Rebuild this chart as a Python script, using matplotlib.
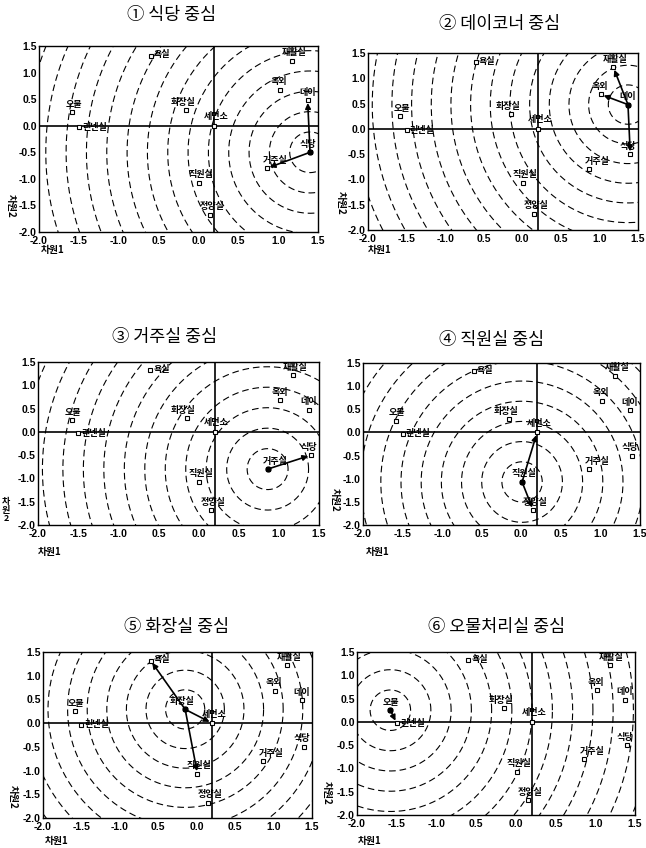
import numpy as np
import matplotlib
matplotlib.use('Agg')
import matplotlib.pyplot as plt

plt.rcParams['font.family'] = ['Noto Sans CJK KR', 'DejaVu Sans']

# 공간 좌표 (차원1, 차원2)
rooms = ['욕실', '오물', '린넨실', '화장실', '세면소', '재활실', '옥외', '데이', '식당', '거주실', '직원실', '정양실']
dim1 = [-0.60, -1.58, -1.50, -0.15, 0.20, 1.18, 1.02, 1.37, 1.40, 0.86, 0.01, 0.15]
dim2 = [1.32, 0.25, -0.03, 0.29, 0.00, 1.22, 0.68, 0.48, -0.50, -0.80, -1.07, -1.68]

titles = ['① 식당 중심', '② 데이코너 중심', '③ 거주실 중심',
          '④ 직원실 중심', '⑤ 화장실 중심', '⑥ 오물처리실 중심']
centers = ['식당', '데이', '거주실', '직원실', '화장실', '오물']
links = [['데이', '거주실'], ['재활실', '옥외', '식당'], ['식당'],
         ['세면소', '정양실'], ['욕실', '세면소', '직원실'], ['린넨실']]

ticks = [-2.0, -1.5, -1.0, -0.5, 0.0, 0.5, 1.0, 1.5]
xtick_labels = ['-2.0', '-1.5', '-1.0', '0.5', '0.0', '0.5', '1.0', '1.5']
ytick_labels = ['-2.0', '-1.5', '-1.0', '-0.5', '0.0', '0.5', '1.0', '1.5']

W, H = 646, 848
# 패널 위치 (픽셀: left, top, width, height)
rects = [(39, 46, 279, 186), (368, 53, 270, 177),
         (38, 362, 281, 163), (363, 363, 277, 162),
         (43, 652, 269, 166), (357, 652, 278, 163)]
title_pos = [(172, 15), (500, 24), (165, 337), (492, 340), (177, 627), (497, 627)]
xlab_pos = [(53, 250), (380, 250), (50, 552), (378, 552), (57, 841), (370, 841)]
ylab_pos = [(11, 206), (341, 203), (6, 510), (335, 500), (13, 797), (327, 793)]

label_off = {'욕실': (3, 1, 'left'), '린넨실': (3, 0, 'left'), '오물': (1, 8, 'center'),
             '화장실': (-3, 8, 'center'), '세면소': (2, 9, 'center'), '재활실': (2, 8, 'center'),
             '옥외': (-1, 8, 'center'), '데이': (0, 8, 'center'), '식당': (-2, 8, 'center'),
             '거주실': (8, 8, 'center'), '직원실': (2, 8, 'center'), '정양실': (2, 8, 'center')}

step = 0.255
axis_x = 0.2

fig = plt.figure(figsize=(W / 100, H / 100), dpi=100)

def fx(x):
    return x / W

def fy(y):
    return 1 - y / H

for i in range(6):
    l, t, w, h = rects[i]
    ax = fig.add_axes([fx(l), fy(t + h), w / W, h / H])
    ax.set_xlim(-2.0, 1.5)
    ax.set_ylim(-2.0, 1.5)

    # 동심원 (화면상 원)
    c = rooms.index(centers[i])
    cx, cy = dim1[c], dim2[c]
    ratio = w / h
    th = np.linspace(0, 2 * np.pi, 400)
    for k in range(1, 19):
        r = step * k
        ax.plot(cx + r * np.cos(th), cy + r * ratio * np.sin(th),
                color='black', lw=0.8, linestyle=(0, (6, 3.5)), zorder=1)

    ax.axhline(0, color='black', lw=1.2, zorder=2)
    ax.axvline(axis_x, color='black', lw=1.2, zorder=2)

    # 연결 화살표
    for name in links[i]:
        j = rooms.index(name)
        ax.annotate('', xy=(dim1[j], dim2[j]), xytext=(cx, cy),
                    arrowprops=dict(arrowstyle='-|>', color='black', lw=1.2,
                                    mutation_scale=8, shrinkA=0, shrinkB=2),
                    zorder=4)
    ax.plot(cx, cy, 'o', color='black', markersize=3.5, zorder=5)

    ax.plot(dim1, dim2, 's', mfc='white', mec='black', mew=0.8,
            markersize=3.2, linestyle='none', zorder=3)
    for j, name in enumerate(rooms):
        dx, dy, ha = label_off[name]
        ax.annotate(name, (dim1[j], dim2[j]), xytext=(dx * 0.72, dy * 0.72),
                    textcoords='offset points', ha=ha, va='center',
                    fontsize=6.5, fontweight='bold', zorder=6)

    ax.set_xticks(ticks)
    ax.set_xticklabels(xtick_labels)
    ax.set_yticks(ticks)
    ax.set_yticklabels(ytick_labels)
    ax.tick_params(axis='x', length=0, pad=3, labelsize=7.5)
    ax.tick_params(axis='y', length=0, pad=1.5, labelsize=7.5)
    for lab in ax.get_xticklabels() + ax.get_yticklabels():
        lab.set_family(['Liberation Sans', 'DejaVu Sans'])
        lab.set_fontweight('bold')
    for s in ax.spines.values():
        s.set_linewidth(1.0)

    fig.text(fx(title_pos[i][0]), fy(title_pos[i][1]), titles[i],
             ha='center', va='center', fontsize=12.5)
    fig.text(fx(xlab_pos[i][0]), fy(xlab_pos[i][1]), '차원1',
             ha='center', va='center', fontsize=7, fontweight='bold')
    if i == 2:
        fig.text(fx(ylab_pos[i][0]), fy(ylab_pos[i][1]), '차\n원\n2',
                 ha='center', va='center', fontsize=6.5, fontweight='bold',
                 linespacing=0.9)
    else:
        fig.text(fx(ylab_pos[i][0]), fy(ylab_pos[i][1]), '차원2',
                 ha='center', va='center', fontsize=7, fontweight='bold',
                 rotation=270)

fig.savefig('out.png', dpi=100)
